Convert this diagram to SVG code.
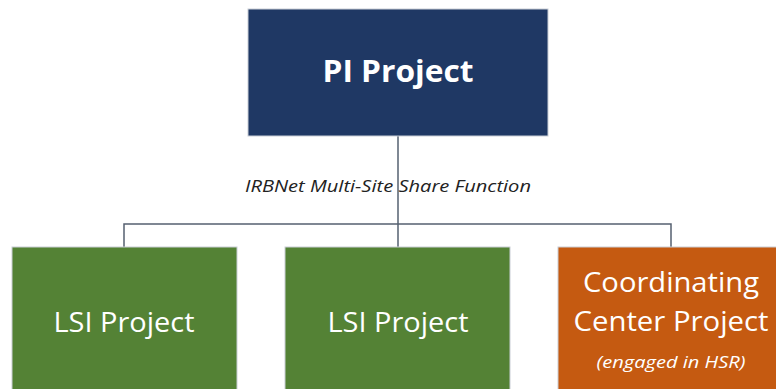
<svg xmlns="http://www.w3.org/2000/svg" width="776" height="389" viewBox="0 0 776 389">
<style>
.box{stroke:#C9CED6;stroke-width:1}
.t{font-family:"Open Sans","Liberation Sans",sans-serif;fill:#FFFFFF;text-anchor:middle}
.c{fill:none;stroke:#556070;stroke-width:1.5}
</style>
<rect width="776" height="389" fill="#FFFFFF"/>
<g id="connectors">
<path class="c" d="M398 136 V247"/>
<path class="c" d="M124 247 V224 H671 V247"/>
<text x="388" y="192" font-family="'Open Sans','Liberation Sans',sans-serif" font-style="italic" font-size="16" fill="#222" text-anchor="middle" textLength="286" lengthAdjust="spacingAndGlyphs">IRBNet Multi-Site Share Function</text>
</g>
<g id="pi">
<rect class="box" x="248" y="9" width="300" height="127" fill="#1F3864"/>
<text class="t" x="398" y="82" font-size="30" font-weight="bold" textLength="151" lengthAdjust="spacingAndGlyphs">PI Project</text>
</g>
<g id="lsi1">
<rect class="box" x="12" y="247" width="225" height="150" fill="#548235"/>
<text class="t" x="124" y="332" font-size="27" textLength="141" lengthAdjust="spacingAndGlyphs">LSI Project</text>
</g>
<g id="lsi2">
<rect class="box" x="285" y="247" width="225" height="150" fill="#548235"/>
<text class="t" x="398" y="332" font-size="27" textLength="141" lengthAdjust="spacingAndGlyphs">LSI Project</text>
</g>
<g id="cc">
<rect class="box" x="558" y="247" width="226" height="150" fill="#C55A11"/>
<text class="t" x="671" y="292" font-size="27" textLength="176" lengthAdjust="spacingAndGlyphs">Coordinating</text>
<text class="t" x="671" y="331" font-size="27" textLength="195" lengthAdjust="spacingAndGlyphs">Center Project</text>
<text class="t" x="671" y="368" font-size="17" font-style="italic" textLength="149" lengthAdjust="spacingAndGlyphs">(engaged in HSR)</text>
</g>
</svg>
